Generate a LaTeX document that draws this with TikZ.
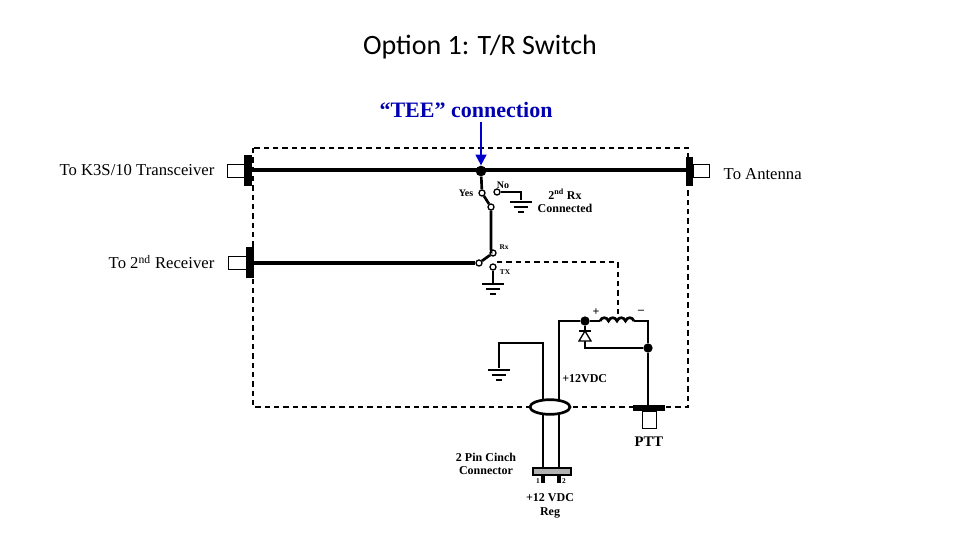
\documentclass[tikz,border=0pt]{standalone}
\usepackage{fontspec}
\setmainfont{Liberation Serif}
\newfontfamily\titlefont{Carlito}
\usetikzlibrary{arrows.meta,shapes.geometric}
\begin{document}
\begin{tikzpicture}[x=0.75pt,y=-0.75pt,
  wire/.style={line width=2.8pt},
  thin/.style={line width=2pt},
  dsh/.style={line width=1.4pt,dash pattern=on 4pt off 3pt},
  lbl/.style={font=\fontsize{12.5}{13}\selectfont},
  sml/.style={font=\bfseries\fontsize{9}{10}\selectfont,align=center},
  tiny/.style={font=\bfseries\fontsize{5.5}{5.5}\selectfont},
  dot/.style={circle,fill=black,inner sep=0pt,minimum size=8pt},
  pin/.style={circle,draw=black,fill=white,line width=1pt,inner sep=0pt,minimum size=4.5pt},
  gnd/.pic={\draw[thin] (-11,0)--(11,0); \draw[thin] (-7,5)--(7,5); \draw[thin](-3,10)--(3,10);}
]
\useasboundingbox (0,0) rectangle (960,540);
% titles
\node (title) at (480,47) {\titlefont\fontsize{21}{24}\selectfont Option 1: T/R Switch};
\node[text=blue!70!black,font=\bfseries\fontsize{16.5}{18}\selectfont] (tee) at (466,110) {“TEE” connection};
% dashed box
\draw[dsh] (253,148) rectangle (688,407);
\draw[dsh] (497,262) -- (618,262) -- (618,318);
% top line
\node[dot] (tdot) at (481,171) {};
\draw[wire] (250,170) -- (688,170);
\draw[-{Triangle[length=8pt,width=8pt]},blue!80!black,line width=1.5pt] (481,122) -- (tdot.north);
% connectors
\fill (244,155) rectangle (252,186); \draw[fill=white,line width=0.6pt] (227,164) rectangle (244,177);
\node[lbl,anchor=east] (k3) at (219,170) {To K3S/10 Transceiver};
\fill (686,157) rectangle (693,186); \draw[fill=white,line width=0.6pt] (693,164) rectangle (709,177);
\node[lbl,anchor=west] (ant) at (719,174) {To Antenna};
\fill (246,247) rectangle (254,278); \draw[fill=white,line width=0.6pt] (228,256) rectangle (246,269);
\node[lbl,anchor=east] (rx2) at (219,262) {To 2\textsuperscript{nd} Receiver};
% switch 1
\node[pin] (yes) at (482,193) {};
\node[pin] (no) at (497,192) {};
\node[pin] (s1b) at (491,207) {};
\draw[thin] (tdot) -- (yes);
\draw[thin] (yes) -- (s1b);
\draw[thin] (no) -- (521,192) -- (521,200);
\pic at (521,202) {gnd};
\node[sml,font=\bfseries\fontsize{7.5}{8}\selectfont,anchor=east] at (478,193) {Yes};
\node[sml,font=\bfseries\fontsize{7.5}{8}\selectfont] at (503,185) {No};
\node[sml] at (565,201) {2\textsuperscript{nd} Rx\\Connected};
% switch 2
\node[pin] (rxp) at (493,253) {};
\node[pin] (txp) at (493,267) {};
\node[pin] (s2b) at (479,263) {};
\draw[thin] (s1b) -- (491,250) -- (rxp);
\draw[thin] (rxp) -- (s2b);
\draw[wire] (s2b) -- (254,263);
\draw[thin] (txp) -- (493,283);
\pic at (493,284) {gnd};
\node[tiny] at (504,247) {Rx};
\node[tiny] at (505,272) {TX};
% relay
\node[dot,minimum size=7pt] (rd) at (585,321) {};
\node[dot,minimum size=7pt] (rd2) at (648,348) {};
\draw[thin] (559,400) -- (559,321) -- (rd) -- (600,321);
\draw[thin] (600,321) to[out=70,in=110,looseness=1.4] (608.5,321) to[out=70,in=110,looseness=1.4] (617,321) to[out=70,in=110,looseness=1.4] (625.5,321) to[out=70,in=110,looseness=1.4] (634,321);
\draw[thin] (634,321) -- (648,321) -- (rd2) -- (648,405);
\draw[thin] (rd) -- (585,348) -- (rd2);
\draw[line width=1pt,fill=white] (585,331) -- (579,341) -- (591,341) -- cycle;
\draw[line width=1.3pt] (579,331) -- (591,331);
\node[sml] at (596,312) {+};
\node[sml] at (641,312) {–};
\node[sml,anchor=west,inner sep=0pt] at (562,379) {+12VDC};
% ground lead
\draw[thin] (499,368) -- (499,343) -- (543,343) -- (543,400);
\pic at (499,370) {gnd};
% cable
\node[draw,ellipse,line width=2pt,fill=white,minimum width=30pt,minimum height=11pt,inner sep=0pt] (el) at (550,407) {};
\draw[thin] (543,414) -- (543,468);
\draw[thin] (559,414) -- (559,468);
\draw[fill=gray!60,line width=1.2pt] (533,468) rectangle (571,475);
\fill (541,475) rectangle (545,483); \fill (557,475) rectangle (561,483);
\node[tiny] at (538,481) {1}; \node[tiny] at (564,481) {2};
\node[sml] at (486,464) {2 Pin Cinch\\Connector};
\node[sml] at (550,506) {+12 VDC\\Reg};
% PTT
\fill (633,405) rectangle (665,411);
\draw[fill=white,line width=0.6pt] (642,411) rectangle (656,428);
\node[font=\bfseries\fontsize{11}{12}\selectfont] (ptt) at (649,442) {PTT};
\end{tikzpicture}
\end{document}
